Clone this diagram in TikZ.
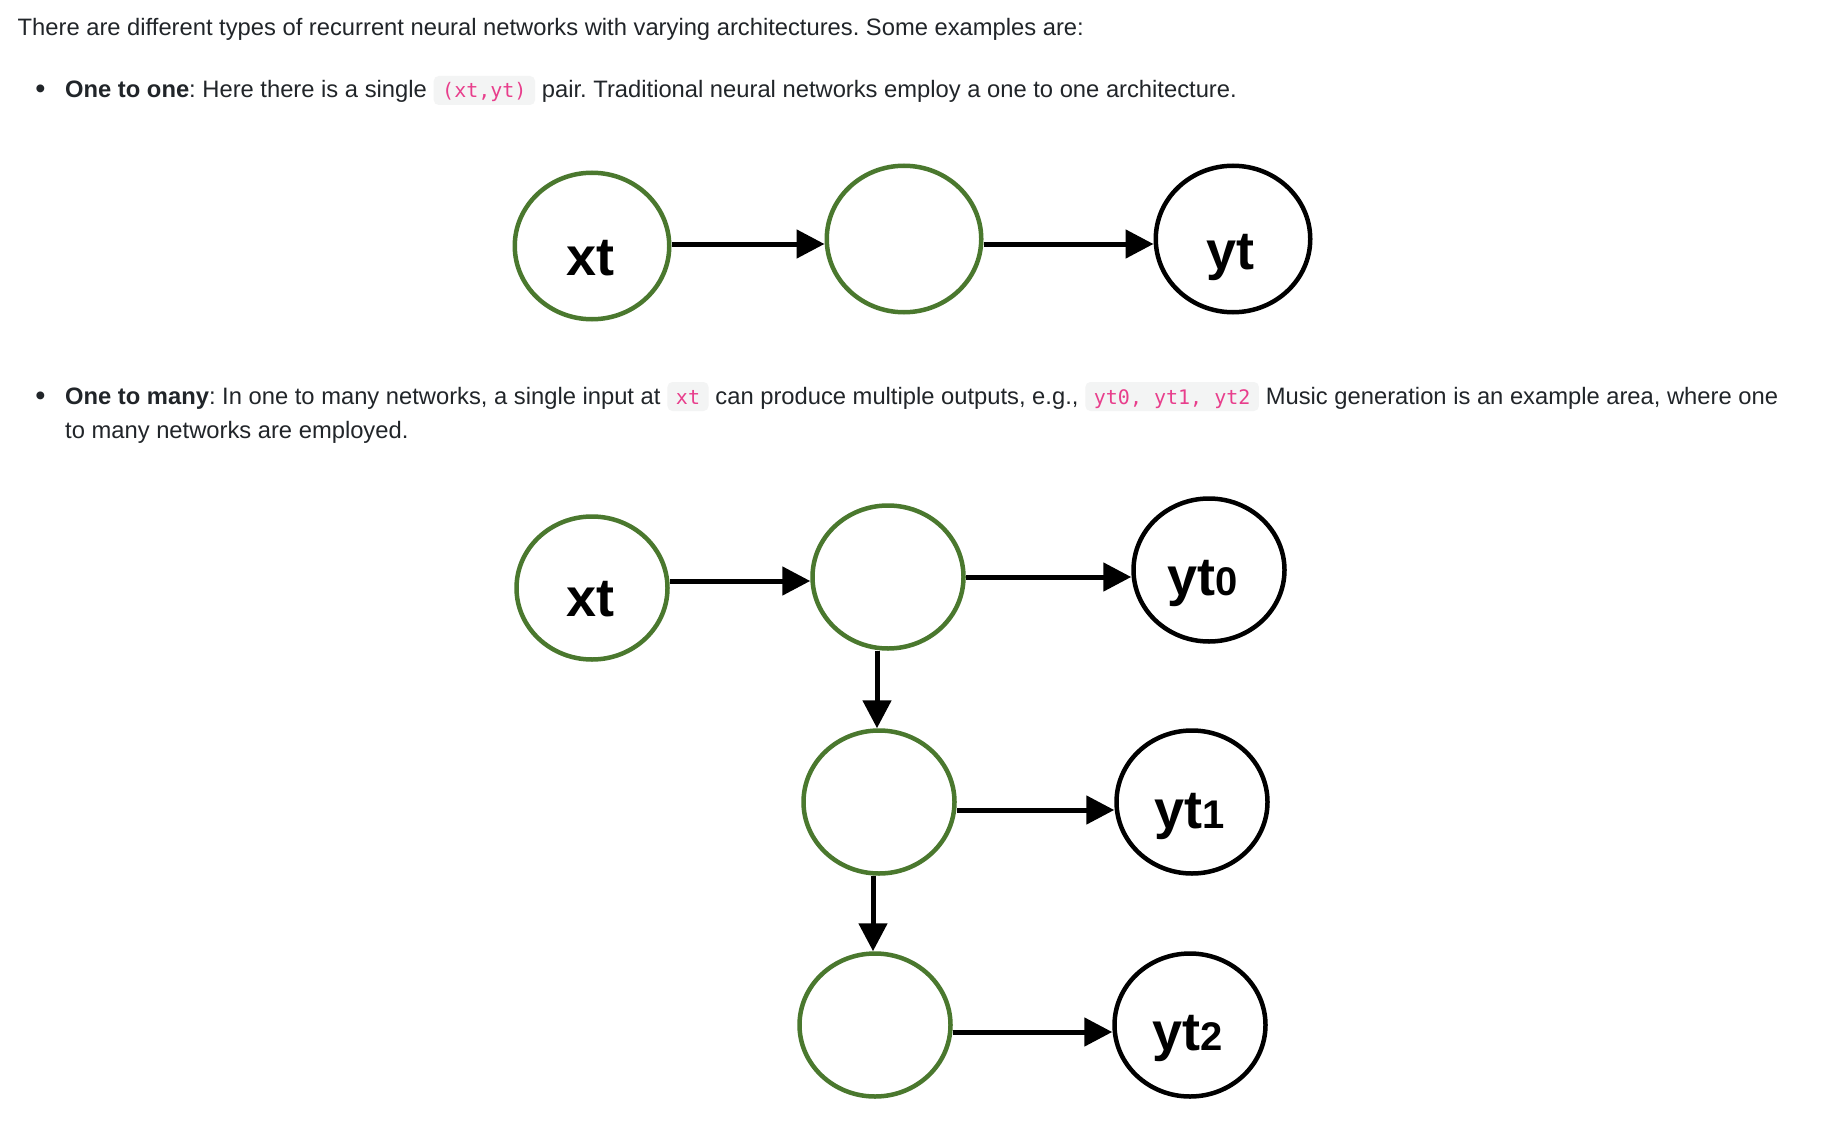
\documentclass[tikz,border=0pt]{standalone}
\usepackage{fontspec}
\setmainfont{Liberation Sans}
\newfontfamily\codefont{DejaVu Sans Mono}
\usetikzlibrary{arrows.meta,shapes.geometric}
\definecolor{bodytext}{HTML}{212529}
\definecolor{codepink}{HTML}{E83E8C}
\definecolor{codebg}{HTML}{F3F4F4}
\definecolor{nodegreen}{RGB}{74,120,46}
\frenchspacing
\tikzset{
  txt/.style={inner sep=0pt, anchor=base west, text=bodytext, font=\fontsize{23.75}{28}\selectfont},
  bul/.style={inner sep=0pt, anchor=base, text=bodytext, font=\fontsize{29}{32}\selectfont},
  codebox/.style={anchor=base west, fill=codebg, rounded corners=5pt, inner xsep=8.5pt, inner ysep=0pt,
    text height=22pt, text depth=7pt, text=codepink, font=\codefont\fontsize{20}{24}\selectfont},
  hid/.style={draw=nodegreen, line width=4.5pt, ellipse, inner sep=0pt},
  outc/.style={draw=black, line width=4.5pt, ellipse, inner sep=0pt},
  bigc/.style={minimum width=154.5pt, minimum height=146.5pt},
  smallc/.style={minimum width=151pt, minimum height=143pt},
  arr/.style={line width=5pt, -{Triangle[length=28pt,width=28pt]}},
  lbl/.style={anchor=base, inner sep=0pt, text=black, font=\bfseries\fontsize{54}{60}\selectfont},
}
\newcommand{\dig}[1]{{\fontsize{40}{44}\selectfont #1}}
\begin{document}
\begin{tikzpicture}[x=1pt,y=-1pt]
\fill[white] (0,0) rectangle (1822,1126);
\useasboundingbox (0,0) rectangle (1822,1126);

% text
\node[txt] (intro) at (17.5,36) {There are different types of recurrent neural networks with varying architectures. Some examples are:};

\node[bul] (bula) at (40.5,99) {•};
\node[txt] (b1a) at (65,98) {\textbf{One to one}: Here there is a single};
\node[codebox] (c1) at ([xshift=6.5pt]b1a.base east) {(xt,yt)};
\node[txt] (b1b) at ([xshift=6.5pt]c1.base east) {pair. Traditional neural networks employ a one to one architecture.};

\node[bul] (bulb) at (40.5,405) {•};
\node[txt] (b2a) at (65,404) {\textbf{One to many}: In one to many networks, a single input at};
\node[codebox] (c2) at ([xshift=6.5pt]b2a.base east) {xt};
\node[txt] (b2b) at ([xshift=6.5pt]c2.base east) {can produce multiple outputs, e.g.,};
\node[codebox] (c3) at ([xshift=6.5pt]b2b.base east) {yt0, yt1, yt2};
\node[txt] (b2c) at ([xshift=6.5pt]c3.base east) {Music generation is an example area, where one};
\node[txt] (b2d) at (65,438) {to many networks are employed.};

% one to one
\node[hid,bigc] (xtA) at (592,246) {};
\node[hid,bigc] (midA) at (904,239) {};
\node[outc,bigc] (ytA) at (1233,239) {};
\node[lbl] (lxtA) at ([xshift=-2pt,yshift=-29pt]xtA.center) {xt};
\node[lbl] (lytA) at ([xshift=-3pt,yshift=-30pt]ytA.center) {yt};
\draw[arr] ([yshift=2pt]xtA.east) -- ([yshift=2pt]xtA.east -| midA.west);
\draw[arr] ([yshift=2pt]xtA.east -| midA.east) -- ([yshift=2pt]xtA.east -| ytA.west);

% one to many
\node[hid,smallc] (xtB) at (592,588) {};
\node[hid,smallc] (midB) at (888,577) {};
\node[outc,smallc] (yt0) at (1209,570) {};
\node[hid,smallc] (mid3) at (879,802) {};
\node[outc,smallc] (yt1) at (1192,802) {};
\node[hid,smallc] (mid4) at (875,1025) {};
\node[outc,smallc] (yt2) at (1190,1025) {};

\node[lbl] (lxtB) at ([xshift=-2pt,yshift=-28pt]xtB.center) {xt};
\node[lbl] (lyt0) at ([xshift=-6pt,yshift=-25pt]yt0.center) {yt\dig{0}};
\node[lbl] (lyt1) at ([xshift=-2pt,yshift=-26pt]yt1.center) {yt\dig{1}};
\node[lbl] (lyt2) at ([xshift=-2pt,yshift=-25pt]yt2.center) {yt\dig{2}};

\draw[arr] ([yshift=7pt]xtB.east) -- ([yshift=7pt]xtB.east -| midB.west);
\draw[arr] (midB.east) -- (midB.east -| yt0.west);
\draw[arr] ([xshift=-2pt]mid3.north |- midB.south) -- ([xshift=-2pt]mid3.north);
\draw[arr] ([yshift=-8pt]mid3.east) -- ([yshift=-8pt]mid3.east -| yt1.west);
\draw[arr] ([xshift=-2pt]mid4.north |- mid3.south) -- ([xshift=-2pt]mid4.north);
\draw[arr] ([yshift=-7pt]mid4.east) -- ([yshift=-7pt]mid4.east -| yt2.west);
\end{tikzpicture}
\end{document}
